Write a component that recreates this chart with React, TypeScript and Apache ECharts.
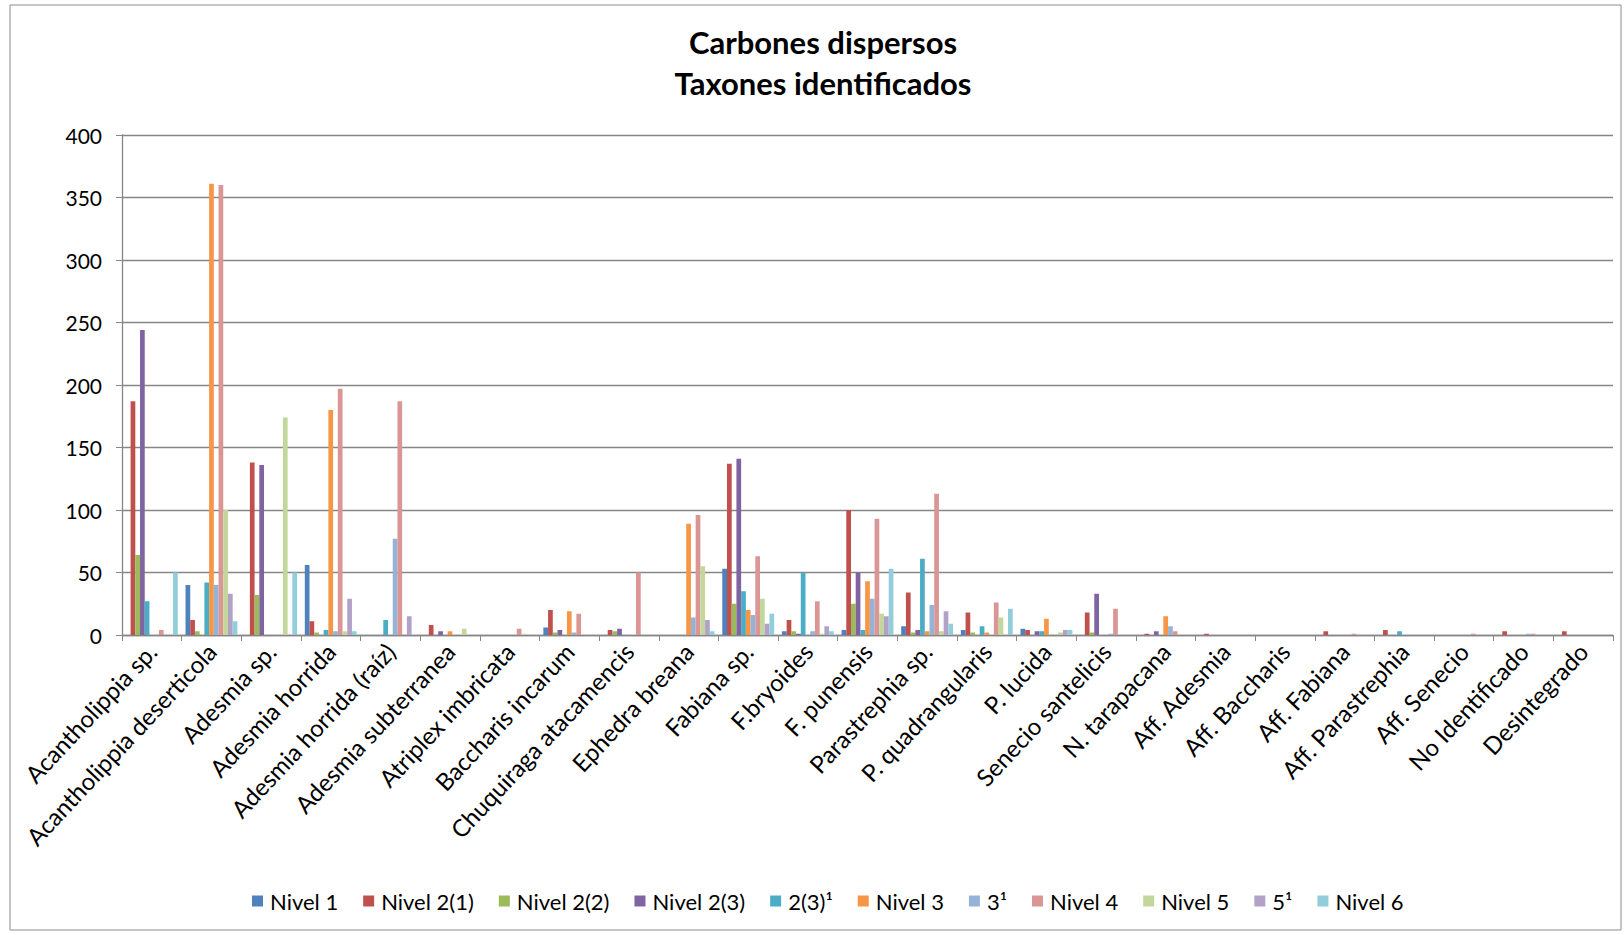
import React, { useEffect, useRef } from "react";
import * as echarts from "echarts";

const categories = [
  "Acantholippia sp.", "Acantholippia deserticola", "Adesmia sp.", "Adesmia horrida",
  "Adesmia horrida (raíz)", "Adesmia subterranea", "Atriplex imbricata", "Baccharis incarum",
  "Chuquiraga atacamencis", "Ephedra breana", "Fabiana sp.", "F.bryoides", "F. punensis",
  "Parastrephia sp.", "P. quadrangularis", "P. lucida", "Senecio santelicis", "N. tarapacana",
  "Aff. Adesmia", "Aff. Baccharis", "Aff. Fabiana", "Aff. Parastrephia", "Aff. Senecio",
  "No Identificado", "Desintegrado",
];

const seriesNames = [
  "Nivel 1", "Nivel 2(1)", "Nivel 2(2)", "Nivel 2(3)", "2(3)¹", "Nivel 3",
  "3¹", "Nivel 4", "Nivel 5", "5¹", "Nivel 6",
];

const nivel1 = [0, 40, 0, 56, 0, 0, 0, 6, 0, 0, 53, 3, 4, 7, 4, 5, 0, 0, 0, 0, 0, 0, 0, 0, 0];
const nivel2_1 = [187, 12, 138, 11, 0, 8, 0, 20, 4, 0, 137, 12, 100, 34, 18, 4, 18, 1, 1, 0, 3, 4, 0, 3, 3];
const nivel2_2 = [64, 3, 32, 2, 0, 0, 0, 2, 3, 0, 25, 3, 25, 2, 2, 0, 2, 0, 0, 0, 0, 0, 0, 0, 0];
const nivel2_3 = [244, 0, 136, 0, 0, 3, 0, 4, 5, 0, 141, 1, 50, 4, 0, 3, 33, 3, 0, 0, 0, 0, 0, 0, 0];
const nivel2_3b = [27, 42, 0, 4, 12, 0, 0, 0, 0, 0, 35, 50, 4, 61, 7, 3, 0, 0, 0, 0, 0, 3, 0, 0, 0];
const nivel3 = [0, 361, 0, 180, 0, 3, 0, 19, 0, 89, 20, 0, 43, 3, 2, 13, 0, 15, 0, 0, 0, 0, 0, 0, 0];
const nivel3b = [0, 40, 0, 3, 77, 0, 0, 2, 0, 14, 16, 3, 29, 24, 0, 0, 1, 7, 0, 0, 0, 0, 0, 1, 0];
const nivel4 = [4, 360, 0, 197, 187, 0, 5, 17, 50, 96, 63, 27, 93, 113, 26, 0, 21, 3, 0, 0, 1, 0, 1, 1, 0];
const nivel5 = [0, 100, 174, 3, 0, 5, 1, 0, 0, 55, 29, 1, 17, 3, 14, 2, 0, 0, 0, 0, 0, 0, 0, 0, 0];
const nivel5b = [0, 33, 0, 29, 15, 0, 0, 0, 0, 12, 9, 7, 15, 19, 0, 4, 0, 0, 0, 0, 0, 0, 0, 0, 0];
const nivel6 = [50, 11, 50, 3, 0, 0, 0, 0, 0, 3, 17, 3, 53, 9, 21, 4, 0, 0, 0, 0, 0, 0, 0, 0, 0];

const seriesValues = [nivel1, nivel2_1, nivel2_2, nivel2_3, nivel2_3b, nivel3, nivel3b, nivel4, nivel5, nivel5b, nivel6];

const colors = [
  "#4F81BD", "#C0504D", "#9BBB59", "#8064A2", "#4BACC6", "#F79646",
  "#95B3D7", "#D99694", "#C3D69B", "#B3A2C7", "#92CDDC",
];

const yTicks = { min: 0, max: 400, interval: 50 };
const titleLines = ["Carbones dispersos", "Taxones identificados"];

const FONT = "Lato, 'Open Sans', sans-serif";

export default function App() {
  const ref = useRef<HTMLDivElement>(null);
  useEffect(() => {
    document.body.style.margin = "0";
    if (!ref.current) return;
    const chart = echarts.init(ref.current, null, { renderer: "svg" });
    chart.setOption({
      animation: false,
      backgroundColor: "#ffffff",
      color: colors,
      title: {
        text: titleLines.join("\n"),
        left: 823,
        top: 21,
        padding: 0,
        textAlign: "center",
        textStyle: {
          fontFamily: FONT,
          fontSize: 31,
          fontWeight: "bold",
          lineHeight: 41,
          color: "#000",
        },
      },
      graphic: [
        {
          type: "rect",
          shape: { x: 10, y: 5, width: 1611, height: 925 },
          style: { fill: "none", stroke: "#8c8c8c", lineWidth: 1 },
          silent: true,
        },
      ],
      legend: {
        data: seriesNames,
        left: 252,
        top: 890,
        padding: 0,
        itemWidth: 11,
        itemHeight: 11,
        itemGap: 25,
        icon: "rect",
        textStyle: { fontFamily: FONT, fontSize: 22, color: "#000", padding: [0, 0, 0, 2] },
      },
      grid: { left: 122, top: 135, width: 1491, height: 500, containLabel: false },
      xAxis: {
        type: "category",
        data: categories,
        axisLine: { show: true, lineStyle: { color: "#868686", width: 1.3 } },
        axisTick: { show: true, length: 6, lineStyle: { color: "#868686" } },
        axisLabel: {
          interval: 0,
          rotate: 47,
          margin: 12,
          fontFamily: FONT,
          fontSize: 24,
          color: "#000",
        },
        splitLine: { show: false },
      },
      yAxis: {
        type: "value",
        min: yTicks.min,
        max: yTicks.max,
        interval: yTicks.interval,
        axisLine: { show: true, lineStyle: { color: "#868686", width: 1.3 } },
        axisTick: { show: true, length: 6, lineStyle: { color: "#868686" } },
        axisLabel: { fontFamily: FONT, fontSize: 21, color: "#000", margin: 20 },
        splitLine: { show: true, lineStyle: { color: "#868686", width: 1.3 } },
      },
      series: seriesNames.map((name, i) => ({
        name,
        type: "bar",
        data: seriesValues[i],
        barGap: "0%",
        barCategoryGap: "13%",
        itemStyle: { color: colors[i] },
      })),
    });
    return () => chart.dispose();
  }, []);
  return <div ref={ref} style={{ width: 1624, height: 935 }} />;
}
